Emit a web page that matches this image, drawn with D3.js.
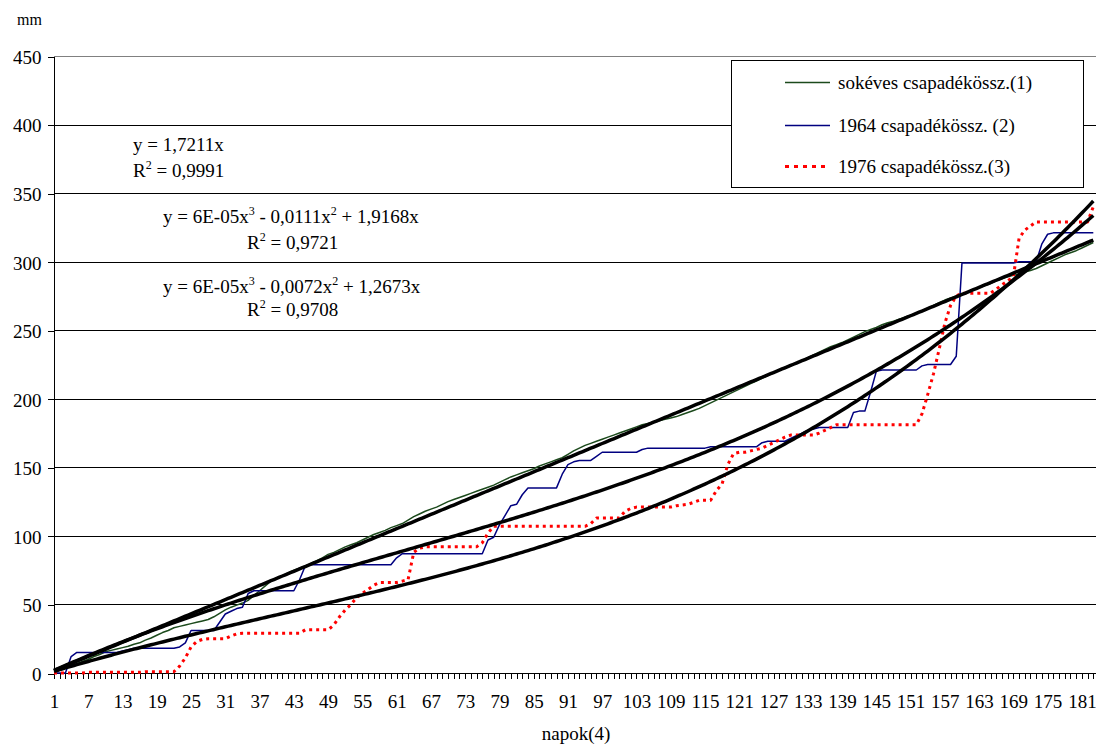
<!DOCTYPE html>
<html>
<head>
<meta charset="utf-8">
<script src="https://cdn.jsdelivr.net/npm/d3@7"></script>
<style>
  body { margin: 0; background: #fff; }
  svg { display: block; }
  text { font-family: "Liberation Serif", "Times New Roman", serif; fill: #000; }
</style>
</head>
<body>
<div id="chart"></div>
<script>
// napok 1..183
var days = d3.range(1, 184);

// sokéves csapadékösszeg (1), mm
var sokeves = [
  0.5, 2, 3.5, 5, 7, 8.5, 10, 12, 13.5, 15.5,
  16.5, 17.5, 18.5, 19.5, 21, 22, 24, 25.5, 27.5, 29.5,
  31, 33, 34, 35, 36, 37, 38, 39, 41, 43.5,
  46, 48, 49.5, 51, 53, 56.5, 60, 63.5, 67, 69,
  71, 73, 75, 76.5, 78, 80, 82, 84, 86.5, 88,
  90, 92, 93.5, 95, 97, 99, 101, 102.5, 104, 106,
  107.5, 109, 111.5, 114, 116, 118, 119.5, 121, 123, 125,
  126.5, 128, 129.5, 131, 132.5, 134, 135.5, 137, 139, 141,
  143, 144.5, 146, 147.5, 149, 151, 152.5, 154, 155.5, 157,
  159.5, 162, 164, 166, 167.5, 169, 170.5, 172, 173.5, 175,
  176.5, 178, 179.5, 181, 182, 183, 184, 185, 186, 187,
  188.5, 190, 191.5, 193, 195, 197, 199, 201, 203, 205,
  207, 209, 211, 213, 215, 217, 219, 221, 223, 224.5,
  226, 228, 230, 232, 234, 236, 238, 239.5, 241, 243,
  245, 247, 249, 250.5, 252, 254, 255.5, 256.5, 258, 259.5,
  261, 262, 264, 266, 268, 270, 272, 273.5, 275, 276.5,
  278, 279.5, 281, 282.5, 284, 286, 287.5, 289, 290, 291,
  292.5, 293.5, 295, 297, 299, 301, 303, 305, 306.5, 308,
  310, 312, 314
];

// 1964 csapadékösszeg (2), mm
var csap1964 = [
  0, 0, 0, 12, 15, 15, 15, 15, 15, 15,
  15, 15, 16, 17, 18, 18, 18, 18, 18, 18,
  18, 18, 19, 22, 31, 31, 31, 31, 31, 37,
  43, 45, 47, 48, 58, 60, 60, 60, 60, 60,
  60, 60, 60, 68, 78, 79, 79, 79, 79, 79,
  79, 79, 79, 79, 79, 79, 79, 79, 79, 79,
  84, 87, 87, 87, 87, 87, 87, 87, 87, 87,
  87, 87, 87, 87, 87, 87, 97, 99, 108, 115,
  122, 123, 130, 135, 135, 135, 135, 135, 135, 145,
  152, 154, 155, 155, 155, 158, 161, 161, 161, 161,
  161, 161, 161, 163, 164, 164, 164, 164, 164, 164,
  164, 164, 164, 164, 164, 165, 165, 165, 165, 165,
  165, 165, 165, 165, 168, 169, 169, 169, 169, 171,
  173, 175, 177, 178, 179, 179, 179, 179, 179, 179,
  190, 191, 191, 205, 220, 221, 221, 221, 221, 221,
  221, 221, 224, 225, 225, 225, 225, 225, 231, 299,
  299, 299, 299, 299, 299, 299, 299, 299, 299, 300,
  300, 300, 300, 313, 320, 321, 321, 321, 321, 321,
  321, 321, 321
];

// 1976 csapadékösszeg (3), mm
var csap1976 = [
  0, 0, 0, 0, 0, 0, 0.5, 0.5, 0.5, 0.5,
  0.5, 0.5, 0.5, 0.5, 0.5, 0.5, 1, 1, 1, 1,
  1, 1, 5, 11, 19, 23, 24.5, 25, 25, 25,
  25, 27, 28.5, 29, 29, 29, 29, 29, 29, 29,
  29, 29, 29, 29, 31.5, 31.5, 31.5, 31.5, 31.5, 35,
  41, 46, 50, 55, 58, 61, 64, 66, 66, 66,
  66, 67, 68, 88, 91, 92, 92, 92, 92, 92,
  92, 92, 92, 92, 92, 95, 102, 107, 107, 107,
  107, 107, 107, 107, 107, 107, 107, 107, 107, 107,
  107, 107, 107, 107, 109, 113, 113, 113, 113, 113,
  118, 120, 121, 121, 121, 121, 121, 121, 121, 122,
  122.5, 123, 124.5, 126, 126, 126, 133, 138, 152, 160,
  161, 161, 162, 163, 164, 166, 168, 170, 172, 173.5,
  173.5, 173.5, 173.5, 173.5, 175, 177, 179, 181, 181, 181,
  181, 181, 181, 181, 181, 181, 181, 181, 181, 181,
  181, 181, 189, 203, 218, 236, 255, 268, 275, 277,
  277, 277, 277, 277, 277, 280, 283, 286, 289, 317,
  323, 326, 329, 329, 329, 329, 329, 329, 329, 329,
  329, 329, 340
];

var yTicks = [0, 50, 100, 150, 200, 250, 300, 350, 400, 450];
var xTickLabels = [1, 7, 13, 19, 25, 31, 37, 43, 49, 55, 61, 67, 73, 79, 85, 91, 97, 103,
  109, 115, 121, 127, 133, 139, 145, 151, 157, 163, 169, 175, 181];

var seriesNames = ["sokéves csapadékössz.(1)", "1964 csapadékössz. (2)", "1976 csapadékössz.(3)"];
var seriesData = [sokeves, csap1964, csap1976];
// trendline order (1 = linear, 3 = cubic), all through the origin
var trendDegree = [1, 3, 3];
var trendLabels = [
  ["y = 1,7211x", "R2 = 0,9991"],
  ["y = 6E-05x3 - 0,0111x2 + 1,9168x", "R2 = 0,9721"],
  ["y = 6E-05x3 - 0,0072x2 + 1,2673x", "R2 = 0,9708"]
];

var W = 1096, H = 744;
var margin = { top: 56, left: 54, bottom: 71 },
    plotRight = 1093.3;

var x = d3.scaleLinear().domain([1, 183]).range([margin.left, plotRight]);
var y = d3.scaleLinear().domain([0, 450]).range([H - margin.bottom, margin.top]);

var color = d3.scaleOrdinal().domain(seriesNames).range(["#1c4a1c", "#000080", "#ff0000"]);

var svg = d3.select("#chart").append("svg")
    .attr("width", W)
    .attr("height", H);

// least squares through the origin: y = sum c_k x^k, k = 1..deg
function fitOrigin(xs, ys, deg) {
    var n = deg, M = [], v = [];
    for (var i = 0; i < n; i++) {
        M.push(new Array(n).fill(0));
        v.push(0);
    }
    xs.forEach(function (xv, idx) {
        var t = xv / 100;
        for (var i = 0; i < n; i++) {
            v[i] += ys[idx] * Math.pow(t, i + 1);
            for (var j = 0; j < n; j++) M[i][j] += Math.pow(t, i + j + 2);
        }
    });
    // gauss
    for (var c = 0; c < n; c++) {
        for (var r = c + 1; r < n; r++) {
            var f = M[r][c] / M[c][c];
            for (var k = c; k < n; k++) M[r][k] -= f * M[c][k];
            v[r] -= f * v[c];
        }
    }
    var coef = new Array(n).fill(0);
    for (var r2 = n - 1; r2 >= 0; r2--) {
        var s = v[r2];
        for (var k2 = r2 + 1; k2 < n; k2++) s -= M[r2][k2] * coef[k2];
        coef[r2] = s / M[r2][r2];
    }
    return function (xv) {
        var t = xv / 100, out = 0;
        for (var i = 0; i < n; i++) out += coef[i] * Math.pow(t, i + 1);
        return out;
    };
}

// gridlines
svg.append("g")
    .selectAll("line")
    .data(yTicks.slice(1))
    .enter().append("line")
    .attr("x1", margin.left)
    .attr("x2", W)
    .attr("y1", function (d) { return Math.round(y(d)) + 0.5; })
    .attr("y2", function (d) { return Math.round(y(d)) + 0.5; })
    .style("stroke", function (d) { return d === 450 ? "#808080" : "#000"; })
    .style("stroke-width", 1);

// axes
var yAxis = d3.axisLeft(y).tickValues(yTicks).tickSize(6).tickSizeOuter(0).tickPadding(6);
var gy = svg.append("g")
    .attr("class", "y axis")
    .attr("transform", "translate(" + (margin.left - 0.5) + ",0.5)")
    .call(yAxis);
gy.selectAll("text").style("font-size", "19px").attr("dy", "0.36em");

var xAxis = d3.axisBottom(x).tickValues(days).tickSize(5).tickSizeOuter(0).tickPadding(16.5)
    .tickFormat(function (d) { return xTickLabels.indexOf(d) >= 0 ? d : ""; });
var gx = svg.append("g")
    .attr("class", "x axis")
    .attr("transform", "translate(0," + (Math.round(y(0)) + 0.5) + ")")
    .call(xAxis);
gx.selectAll("text").style("font-size", "19px");
gx.select(".domain").attr("d", "M" + margin.left + ",0H" + W);

d3.selectAll(".axis path, .axis line")
    .style("fill", "none")
    .style("stroke", "#000")
    .style("shape-rendering", "crispEdges");

// series
var line = d3.line()
    .x(function (d, i) { return x(days[i]); })
    .y(function (d) { return y(d); });

seriesData.forEach(function (data, s) {
    svg.append("path")
        .datum(data)
        .attr("d", line)
        .style("fill", "none")
        .style("stroke", color(seriesNames[s]))
        .style("stroke-width", s === 2 ? 3 : 1.5)
        .style("stroke-dasharray", s === 2 ? "3,4" : null)
        .style("stroke-linejoin", "round");
});

// trendlines
var fine = d3.range(1, 183.01, 0.5);
seriesData.forEach(function (data, s) {
    var f = fitOrigin(days, data, trendDegree[s]);
    svg.append("path")
        .datum(fine)
        .attr("d", d3.line()
            .x(function (d) { return x(d); })
            .y(function (d) { return y(f(d)); }))
        .style("fill", "none")
        .style("stroke", "#000")
        .style("stroke-width", 3.5);
});

// trendline labels
var labelPos = [[133, 150.5, 133, 177], [163, 222.5, 247, 249], [163, 292.5, 247, 316]];

function richText(g, str, px, py) {
    var t = g.append("text").attr("x", px).attr("y", py).style("font-size", "19px");
    // superscript exponent after "x" and "R"
    var parts = str.match(/x3|x2|R2|[^xR]+|x|R/g);
    var raised = false;
    parts.forEach(function (p) {
        if (p === "x3" || p === "x2" || p === "R2") {
            t.append("tspan").attr("dy", raised ? 8 : null).text(p[0]);
            t.append("tspan").attr("dy", -8).style("font-size", "12px").text(p[1]);
            raised = true;
        } else {
            t.append("tspan").attr("dy", raised ? 8 : null).text(p);
            raised = false;
        }
    });
}

var labels = svg.append("g");
trendLabels.forEach(function (lb, i) {
    richText(labels, lb[0], labelPos[i][0], labelPos[i][1]);
    richText(labels, lb[1], labelPos[i][2], labelPos[i][3]);
});

// legend
var legend = svg.append("g").attr("class", "legendbox");
legend.append("rect")
    .attr("x", 731.5)
    .attr("y", 60.5)
    .attr("width", 352)
    .attr("height", 127)
    .style("fill", "#fff")
    .style("stroke", "#000")
    .style("stroke-width", 1);

var legendRows = [82.5, 125.5, 166.5];
seriesNames.forEach(function (name, i) {
    legend.append("line")
        .attr("x1", 785)
        .attr("x2", 830)
        .attr("y1", legendRows[i])
        .attr("y2", legendRows[i])
        .style("stroke", color(name))
        .style("stroke-width", i === 2 ? 3 : 1.6)
        .style("stroke-dasharray", i === 2 ? "4,5" : null);
    legend.append("text")
        .attr("x", 838)
        .attr("y", legendRows[i] + 6.5)
        .style("font-size", "19px")
        .text(name);
});

// axis titles
svg.append("text")
    .attr("x", 17)
    .attr("y", 25)
    .style("font-size", "16px")
    .text("mm");

svg.append("text")
    .attr("x", 576)
    .attr("y", 740)
    .style("text-anchor", "middle")
    .style("font-size", "19px")
    .text("napok(4)");
</script>
</body>
</html>
